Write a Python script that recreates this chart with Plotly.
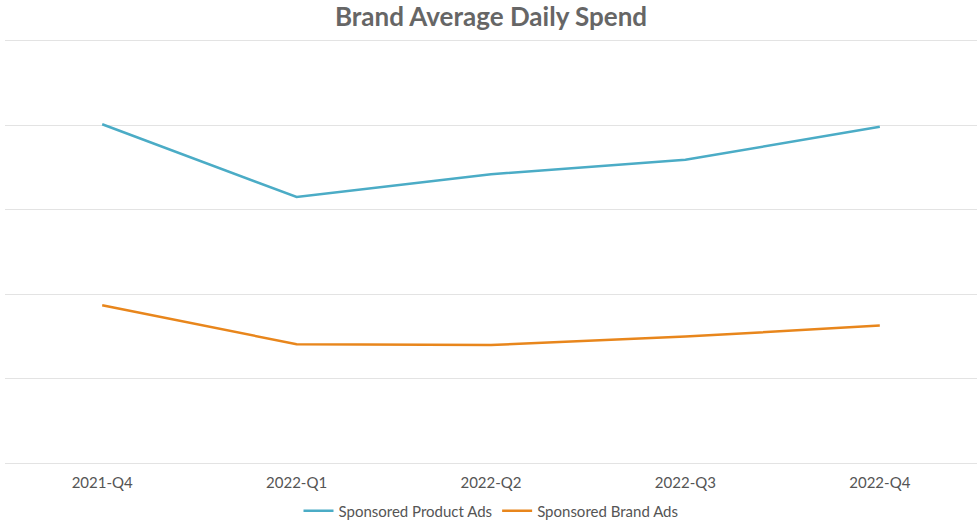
import plotly.graph_objects as go

# Quarterly average daily spend per ad type
quarters = ["2021-Q4", "2022-Q1", "2022-Q2", "2022-Q3", "2022-Q4"]
product_ads = [4.01, 3.15, 3.42, 3.59, 3.98]
brand_ads = [1.87, 1.41, 1.40, 1.50, 1.63]

fig = go.Figure()
fig.add_trace(go.Scatter(
    x=quarters, y=product_ads, mode="lines", name="Sponsored Product Ads",
    line=dict(color="#4BACC6", width=2.5),
))
fig.add_trace(go.Scatter(
    x=quarters, y=brand_ads, mode="lines", name="Sponsored Brand Ads",
    line=dict(color="#E8861C", width=2.5),
))

fig.update_layout(
    width=978, height=523,
    margin=dict(l=5, r=1, t=38, b=57, autoexpand=False),
    paper_bgcolor="white", plot_bgcolor="white",
    font=dict(family="Lato", color="#555555", size=15),
    title=dict(
        text="<b>Brand Average Daily Spend</b>",
        x=0.5, xanchor="center", xref="paper",
        yref="container", y=1 - 17 / 523, yanchor="middle",
        font=dict(family="Lato", size=26, color="#666666"),
    ),
    showlegend=True,
    legend=dict(
        orientation="h", x=0.5, xanchor="center",
        yref="container", y=1 - 511 / 523, yanchor="middle",
        font=dict(size=15, color="#555555"), itemwidth=30,
    ),
    xaxis=dict(
        type="category", range=[-0.5, 4.5], showgrid=False, zeroline=False,
        showline=False, ticks="", ticklabelstandoff=6,
        tickfont=dict(size=15, color="#555555"),
    ),
    yaxis=dict(
        range=[-0.03, 5.03], dtick=1, showticklabels=False, showgrid=True,
        gridcolor="#e3e3e3", gridwidth=1, zeroline=False, showline=False,
        fixedrange=True,
    ),
)

fig.write_html("out.html")
